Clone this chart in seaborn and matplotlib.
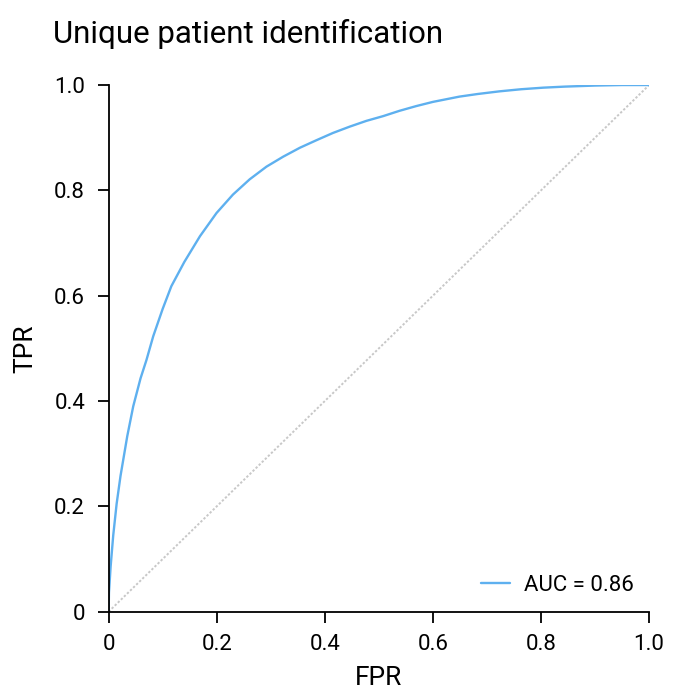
import pandas as pd
import seaborn as sns
import matplotlib.pyplot as plt

# ROC curve values
fpr = [0.0, 0.0006, 0.0037, 0.0085, 0.0148, 0.022, 0.0344, 0.0455, 0.059,
       0.070, 0.0825, 0.100, 0.116, 0.140, 0.169, 0.1996, 0.230, 0.261,
       0.292, 0.323, 0.354, 0.384, 0.415, 0.446, 0.477, 0.508, 0.538,
       0.569, 0.600, 0.649, 0.683, 0.723, 0.763, 0.804, 0.844, 0.90,
       0.95, 1.0]
tpr = [0.0, 0.036, 0.086, 0.145, 0.205, 0.258, 0.333, 0.390, 0.443,
       0.478, 0.523, 0.575, 0.618, 0.664, 0.713, 0.757, 0.792, 0.821,
       0.845, 0.864, 0.881, 0.895, 0.909, 0.921, 0.932, 0.941, 0.951,
       0.960, 0.968, 0.978, 0.983, 0.988, 0.992, 0.995, 0.997, 0.999,
       1.0, 1.0]
auc = 0.86
chance = [0.0, 1.0]
ticks = [0, 0.2, 0.4, 0.6, 0.8, 1.0]
tick_labels = ['0', '0.2', '0.4', '0.6', '0.8', '1.0']

df = pd.DataFrame({'FPR': fpr, 'TPR': tpr})

sns.set_style("ticks")
plt.rcParams['font.family'] = ['Roboto', 'DejaVu Sans']
plt.rcParams['text.color'] = 'black'
plt.rcParams['axes.labelcolor'] = 'black'

fig, ax = plt.subplots(figsize=(6.79, 6.97), dpi=100)
fig.subplots_adjust(left=0.160, right=0.956, bottom=0.1224, top=0.878)

ax.plot(chance, chance, color='#c8c8c8', lw=1.4, ls=(0, (1.2, 1.0)), zorder=1)
sns.lineplot(data=df, x='FPR', y='TPR', ax=ax, color='#5eb0ef', lw=1.7,
             label=f'AUC = {auc:.2f}', sort=False, estimator=None, zorder=2)

ax.set_xlim(0, 1)
ax.set_ylim(0, 1)
ax.set_xticks(ticks)
ax.set_xticklabels(tick_labels)
ax.set_yticks(ticks)
ax.set_yticklabels(tick_labels)
ax.tick_params(labelsize=16, length=8, width=1.3, colors='black')
ax.tick_params(axis='y', pad=9)
ax.tick_params(axis='x', pad=8)
for s in ['left', 'bottom']:
    ax.spines[s].set_linewidth(1.3)
    ax.spines[s].set_color('black')
sns.despine(ax=ax)

ax.set_xlabel('FPR', fontsize=19, labelpad=8, color='black')
ax.set_ylabel('TPR', fontsize=19, labelpad=12, color='black')
ax.set_title('Unique patient identification', fontsize=22.5, loc='left',
             x=-0.103, pad=30, color='black')

leg = ax.legend(loc='lower right', frameon=False, fontsize=16, handlelength=1.3,
                handletextpad=0.6, borderaxespad=0.3)
for t in leg.get_texts():
    t.set_color('black')

fig.savefig('out.png', dpi=100)
